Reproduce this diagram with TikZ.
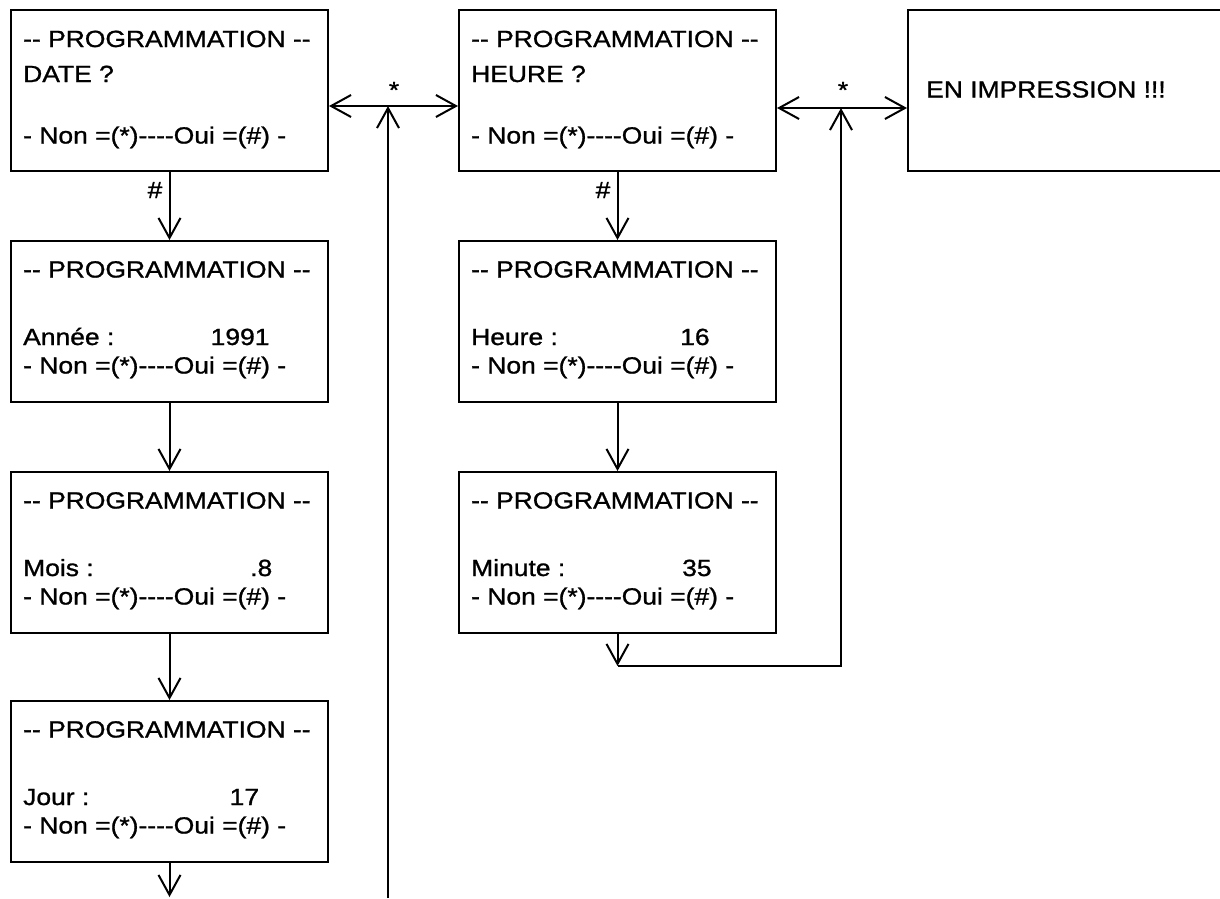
\documentclass[tikz,border=0pt]{standalone}
\usepackage{fontspec}
\newfontfamily\panelfont{Liberation Sans}[Ligatures=TeXOff,FakeStretch=1.13,FakeBold=1.1]
\usetikzlibrary{arrows.meta}

\begin{document}
\begin{tikzpicture}[x=1pt,y=-1pt,
  screen/.style={draw,line width=2pt,rectangle,inner sep=0pt,anchor=north west,
    minimum width=317pt,minimum height=161pt},
  wide/.style={screen,minimum width=313pt},
  txt/.style={anchor=base west,inner sep=0pt,font=\panelfont\fontsize{23.4}{27}\selectfont},
  tag/.style={txt,anchor=base},
  link/.style={line width=2pt,>={Straight Barb[length=20pt,width=22pt]}}
]
\useasboundingbox (0,0) rectangle (1220,898);

% --- date column ---
\node[screen] (date) at (10,9) {};
\node[txt] (date1) at (23,47) {-- PROGRAMMATION --};
\node[txt] (date2) at (23,82) {DATE ?};
\node[txt] (date3) at (23,143.5) {- Non =(*)----Oui =(\#) -};

\node[screen] (annee) at (10,240) {};
\node[txt] (annee1) at (23,277.5) {-- PROGRAMMATION --};
\node[txt] (annee2) at (23,345) {Année :};
\node[txt] (annee4) at (210.5,345) {1991};
\node[txt] (annee3) at (23,373.5) {- Non =(*)----Oui =(\#) -};

\node[screen] (mois) at (10,471) {};
\node[txt] (mois1) at (23,508.5) {-- PROGRAMMATION --};
\node[txt] (mois2) at (23,576) {Mois :};
\node[txt] (mois4) at (250,576) {.8};
\node[txt] (mois3) at (23,604.5) {- Non =(*)----Oui =(\#) -};

\node[screen] (jour) at (10,700) {};
\node[txt] (jour1) at (23,737.5) {-- PROGRAMMATION --};
\node[txt] (jour2) at (23,805) {Jour :};
\node[txt] (jour4) at (229.5,805) {17};
\node[txt] (jour3) at (23,833.5) {- Non =(*)----Oui =(\#) -};

% --- time column ---
\node[screen] (heure) at (458,9) {};
\node[txt] (heure1) at (471,47) {-- PROGRAMMATION --};
\node[txt] (heure2) at (471,82) {HEURE ?};
\node[txt] (heure3) at (471,143.5) {- Non =(*)----Oui =(\#) -};

\node[screen] (hh) at (458,240) {};
\node[txt] (hh1) at (471,277.5) {-- PROGRAMMATION --};
\node[txt] (hh2) at (471,345) {Heure :};
\node[txt] (hh4) at (680,345) {16};
\node[txt] (hh3) at (471,373.5) {- Non =(*)----Oui =(\#) -};

\node[screen] (mm) at (458,471) {};
\node[txt] (mm1) at (471,508.5) {-- PROGRAMMATION --};
\node[txt] (mm2) at (471,576) {Minute :};
\node[txt] (mm4) at (682,576) {35};
\node[txt] (mm3) at (471,604.5) {- Non =(*)----Oui =(\#) -};

% --- printing screen ---
\node[wide] (impr) at (907,9) {};
\node[txt] (impr1) at (926,97.5) {EN IMPRESSION !!!};

% --- junction points ---
\coordinate (leftjoin) at (388,106);
\coordinate (leftfoot) at (388,898);
\coordinate (rightjoin) at (841,108);
\coordinate (loopcorner) at (841,666);
\coordinate (datefoot) at (170,897);

% --- connectors ---
\draw[link,<->] (date.east |- leftjoin) -- (heure.west |- leftjoin);
\draw[link,->] (leftfoot) -- (leftjoin);
\node[tag] (star1) at (394,98) {*};

\draw[link,<->] (heure.east |- rightjoin) -- (impr.west |- rightjoin);
\node[tag] (star2) at (843,98) {*};

\draw[link,->] (date.south) -- (annee.north);
\node[tag] (hash1) at (155,198) {\#};
\draw[link,->] (annee.south) -- (mois.north);
\draw[link,->] (mois.south) -- (jour.north);
\draw[link,->] (jour.south) -- (jour.south |- datefoot);

\draw[link,->] (heure.south) -- (hh.north);
\node[tag] (hash2) at (603,198) {\#};
\draw[link,->] (hh.south) -- (mm.north);
\draw[link,->] (mm.south) -- (mm.south |- loopcorner);
\draw[link,->] (mm.south |- loopcorner) -- (loopcorner) -- (rightjoin);

\end{tikzpicture}
\end{document}
